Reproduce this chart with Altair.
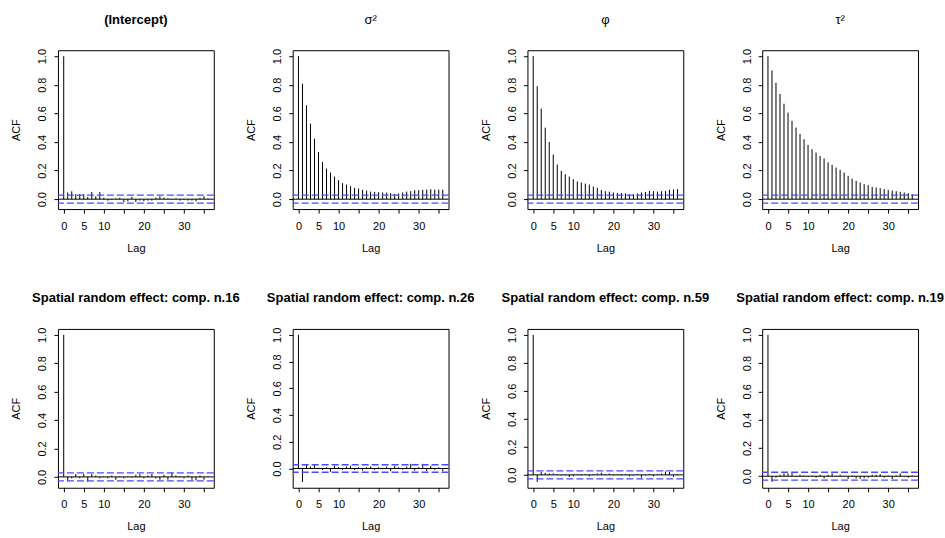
import altair as alt
import pandas as pd

lags = list(range(37))
ci = 0.028

titles = [
    "(Intercept)", "σ²", "φ", "τ²",
    "Spatial random effect: comp. n.16", "Spatial random effect: comp. n.26",
    "Spatial random effect: comp. n.59", "Spatial random effect: comp. n.19",
]
bold = [True, False, False, False, True, True, True, True]

acf_intercept = [1.0, 0.047, 0.055, 0.035, 0.035, 0.035, 0.015, 0.05, 0.02, 0.05,
                 0.01, -0.01, -0.005, 0.005, 0.01, -0.02, -0.015, 0.015, -0.02, -0.01,
                 -0.015, -0.01, -0.01, 0.01, 0.02, 0.01, 0.005, -0.005, 0.005, -0.01,
                 -0.005, -0.01, -0.01, -0.015, 0.01, 0.02, 0.005]
acf_sigma2 = [1.0, 0.807, 0.656, 0.528, 0.423, 0.33, 0.26, 0.214, 0.186, 0.158,
              0.133, 0.112, 0.102, 0.091, 0.079, 0.074, 0.065, 0.06, 0.053, 0.051,
              0.049, 0.047, 0.046, 0.042, 0.037, 0.04, 0.047, 0.053, 0.056, 0.063,
              0.063, 0.065, 0.067, 0.07, 0.067, 0.067, 0.067]
acf_phi = [1.0, 0.79, 0.633, 0.5, 0.4, 0.312, 0.242, 0.198, 0.174, 0.158,
           0.14, 0.123, 0.116, 0.109, 0.102, 0.088, 0.079, 0.065, 0.056, 0.053,
           0.047, 0.044, 0.042, 0.04, 0.033, 0.035, 0.04, 0.047, 0.051, 0.058,
           0.056, 0.053, 0.056, 0.058, 0.065, 0.067, 0.07]
acf_tau2 = [1.0, 0.9, 0.814, 0.735, 0.667, 0.605, 0.547, 0.5, 0.456, 0.419,
            0.379, 0.349, 0.326, 0.302, 0.284, 0.258, 0.24, 0.221, 0.205, 0.186,
            0.163, 0.144, 0.128, 0.116, 0.105, 0.098, 0.086, 0.081, 0.077, 0.07,
            0.065, 0.06, 0.056, 0.051, 0.047, 0.042, 0.035]
acf_n16 = [1.0, -0.03, -0.01, 0.02, -0.01, 0.02, -0.035, 0.02, 0.01, -0.01,
           0.005, -0.01, 0.01, -0.02, 0.005, -0.01, 0.005, -0.005, 0.015, 0.02,
           -0.01, 0.01, 0.02, -0.01, -0.02, 0.015, -0.02, 0.03, 0.01, 0.005,
           -0.01, 0.01, -0.02, -0.025, 0.01, -0.02, 0.005]
acf_n26 = [1.0, -0.1, 0.03, 0.015, 0.03, 0.005, -0.01, 0.01, -0.025, 0.02,
           0.01, -0.01, 0.015, 0.02, -0.01, 0.01, -0.015, 0.01, 0.015, -0.01,
           0.01, -0.005, 0.015, -0.02, 0.02, 0.01, -0.01, 0.015, 0.035, -0.015,
           0.01, 0.035, -0.02, 0.02, -0.01, 0.01, -0.02]
acf_n59 = [1.0, -0.05, 0.02, 0.015, 0.01, 0.01, 0.005, -0.005, -0.005, -0.015,
           -0.01, 0.005, -0.005, 0.005, -0.01, 0.005, 0.01, 0.015, 0.005, 0.01,
           -0.005, 0.005, -0.005, 0.005, -0.01, -0.005, 0.005, -0.02, -0.005, 0.005,
           -0.01, 0.005, 0.01, 0.025, 0.02, -0.015, 0.005]
acf_n19 = [1.0, -0.04, -0.01, 0.01, 0.02, 0.02, 0.025, -0.005, 0.01, 0.005,
           -0.005, 0.005, -0.01, 0.01, -0.015, 0.01, 0.02, -0.005, 0.01, -0.005,
           -0.02, 0.005, -0.015, -0.02, -0.015, -0.01, 0.01, 0.01, 0.015, -0.01,
           0.005, -0.02, 0.005, 0.02, -0.005, -0.01, 0.005]

series = [acf_intercept, acf_sigma2, acf_phi, acf_tau2, acf_n16, acf_n26, acf_n59, acf_n19]

x_ticks = [0, 5, 10, 15, 20, 25, 30, 35]
x_labels_shown = [0, 5, 10, 20, 30]
y_ticks = [0.0, 0.2, 0.4, 0.6, 0.8, 1.0]

FONT = "Liberation Sans"
W, H = 156, 159


def panel(title, vals, is_bold):
    df = pd.DataFrame({"lag": lags, "acf": vals, "base": [0.0] * len(lags)})
    ymin = min(-ci, min(vals))
    r = 1.0 - ymin
    ydom = [ymin - 0.04 * r, 1.0 + 0.04 * r]
    xdom = [-0.04 * 36, 36 * 1.04]
    xs = alt.Scale(domain=xdom, nice=False, zero=False)
    ys = alt.Scale(domain=ydom, nice=False, zero=False)
    xaxis = alt.Axis(
        values=x_ticks, title="Lag", grid=False, domain=False,
        labelExpr="indexof(" + str(x_labels_shown) + ", datum.value) >= 0 ? datum.label : ''",
        tickSize=4, tickColor="black", labelColor="black", labelFontSize=11,
        labelPadding=7, titlePadding=11, titleFontSize=11, titleFontWeight="normal",
        titleColor="black", labelFont=FONT, titleFont=FONT, labelFlush=False,
        labelOverlap=False,
    )
    yaxis = alt.Axis(
        values=y_ticks, format=".1f", title="ACF", grid=False, domain=False,
        labelAngle=270, labelAlign="center", labelBaseline="bottom",
        tickSize=4, tickColor="black", labelColor="black", labelFontSize=11,
        labelPadding=6, titlePadding=15, titleFontSize=11, titleFontWeight="normal",
        titleColor="black", labelFont=FONT, titleFont=FONT, labelFlush=False,
        labelOverlap=False,
    )
    bars = alt.Chart(df).mark_rule(color="black", strokeWidth=1, clip=True).encode(
        x=alt.X("lag:Q", scale=xs, axis=xaxis),
        y=alt.Y("acf:Q", scale=ys, axis=yaxis),
        y2="base:Q",
    )
    zdf = pd.DataFrame({"z": [0.0]})
    zero = alt.Chart(zdf).mark_rule(color="black", strokeWidth=1).encode(
        y=alt.Y("z:Q", scale=ys, axis=yaxis)
    )
    cidf = pd.DataFrame({"c": [ci, -ci]})
    cil = alt.Chart(cidf).mark_rule(color="#4a4aff", strokeDash=[7, 3], strokeWidth=1.3).encode(
        y=alt.Y("c:Q", scale=ys, axis=yaxis)
    )
    return alt.layer(bars, zero, cil).properties(
        width=W, height=H,
        title=alt.TitleParams(
            title, fontWeight="bold" if is_bold else "normal", fontSize=13,
            font=FONT, color="black", anchor="middle", offset=22,
        ),
    )


panels = [panel(t, s, b) for t, s, b in zip(titles, series, bold)]
chart = alt.concat(
    *panels, columns=4, spacing=alt.RowColnumber(row=120, column=79), bounds="flush"
).properties(
    padding={"left": 10, "top": 12, "right": 0, "bottom": 0},
    background="white",
).configure(font=FONT).configure_view(stroke="black", strokeWidth=1)

chart.save("out.html", embed_options={"renderer": "svg", "actions": False})
